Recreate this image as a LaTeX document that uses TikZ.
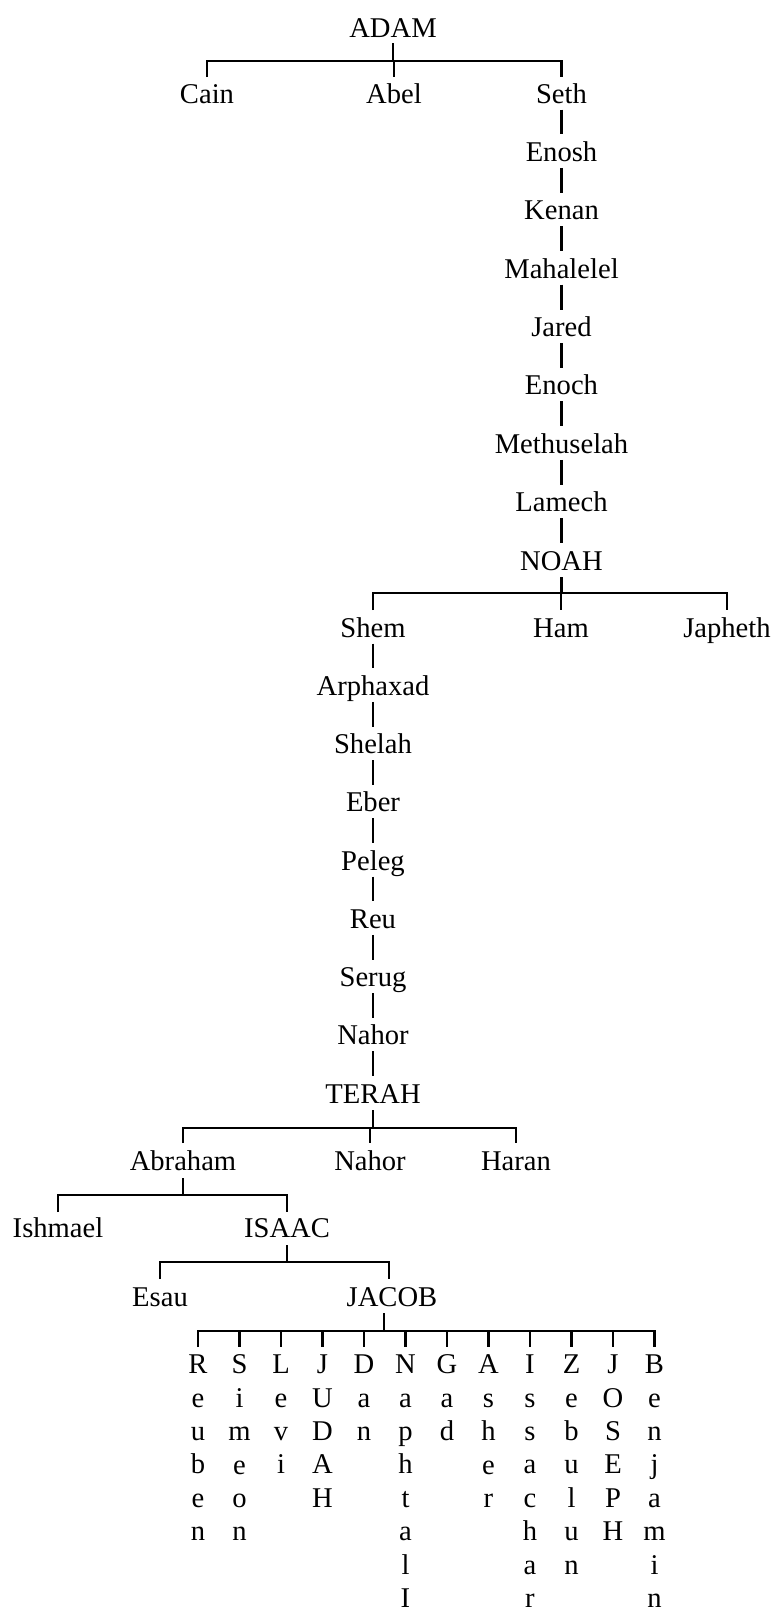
\documentclass[tikz,border=0pt]{standalone}
\usepackage{fontspec}
\setmainfont{Liberation Serif}
\begin{document}
\begin{tikzpicture}[x=1pt,y=-1pt,
  nm/.style={font=\fontsize{28.6}{34}\selectfont, inner sep=0pt, outer sep=0pt, text height=19pt, text depth=0pt, anchor=base},
  son/.style={font=\fontsize{28.6}{33.4}\selectfont, inner sep=0pt, outer sep=0pt, align=center, anchor=north},
  conn/.style={line width=2.4pt, line join=miter}]
\useasboundingbox (0,0) rectangle (777,1612);
\clip (0,0) rectangle (777,1612);
% ---- Adam and sons
\node[nm] (adam) at (393,37) {ADAM};
\node[nm] (cain) at (207,103) {Cain};
\node[nm] (abel) at (394,103) {Abel};
\node[nm] (seth) at (561.5,103) {Seth};
\node[nm] (enosh) at (561.5,161.4) {Enosh};
\node[nm] (kenan) at (561.5,219.75) {Kenan};
\node[nm] (mahalelel) at (561.5,278.1) {Mahalelel};
\node[nm] (jared) at (561.5,336.5) {Jared};
\node[nm] (enoch) at (561.5,394.9) {Enoch};
\node[nm] (methuselah) at (561.5,453.25) {Methuselah};
\node[nm] (lamech) at (561.5,511.6) {Lamech};
\node[nm] (noah) at (561.5,570) {NOAH};
\node[nm] (shem) at (373,637) {Shem};
\node[nm] (ham) at (561,637) {Ham};
\node[nm] (japheth) at (727,637) {Japheth};
\node[nm] (arphaxad) at (373,695.25) {Arphaxad};
\node[nm] (shelah) at (373,753.5) {Shelah};
\node[nm] (eber) at (373,811.75) {Eber};
\node[nm] (peleg) at (373,870) {Peleg};
\node[nm] (reu) at (373,928.25) {Reu};
\node[nm] (serug) at (373,986.5) {Serug};
\node[nm] (nahor) at (373,1044.75) {Nahor};
\node[nm] (terah) at (373,1103) {TERAH};
\node[nm] (abraham) at (183,1170) {Abraham};
\node[nm] (nahorT) at (370,1170) {Nahor};
\node[nm] (haran) at (516,1170) {Haran};
\node[nm] (ishmael) at (58,1237) {Ishmael};
\node[nm] (isaac) at (287,1237) {ISAAC};
\node[nm] (esau) at (160,1306) {Esau};
\node[nm] (jacob) at (392,1306) {JACOB};
% ---- sons of Jacob
\node[son] (reuben) at (198,1355) {R\\e\\u\\b\\e\\n};
\node[son] (simeon) at (239.5,1355) {S\\i\\m\\e\\o\\n};
\node[son] (levi) at (281,1355) {L\\e\\v\\i};
\node[son] (judah) at (322.5,1355) {J\\U\\D\\A\\H};
\node[son] (dan) at (364,1355) {D\\a\\n};
\node[son] (naphtali) at (405.5,1355) {N\\a\\p\\h\\t\\a\\l\\I};
\node[son] (gad) at (447,1355) {G\\a\\d};
\node[son] (asher) at (488.5,1355) {A\\s\\h\\e\\r};
\node[son] (issachar) at (530,1355) {I\\s\\s\\a\\c\\h\\a\\r};
\node[son] (zebulun) at (571.5,1355) {Z\\e\\b\\u\\l\\u\\n};
\node[son] (joseph) at (613,1355) {J\\O\\S\\E\\P\\H};
\node[son] (benjamin) at (654.5,1355) {B\\e\\n\\j\\a\\m\\i\\n};
% ---- bar levels
\coordinate (bA) at (0,61);
\coordinate (bN) at (0,593);
\coordinate (bT) at (0,1128);
\coordinate (bB) at (0,1195);
\coordinate (bI) at (0,1262);
\coordinate (bJ) at (0,1331);
% ---- single-line descent chains
\foreach \a/\b in {seth/enosh,enosh/kenan,kenan/mahalelel,mahalelel/jared,jared/enoch,enoch/methuselah,methuselah/lamech,lamech/noah,shem/arphaxad,arphaxad/shelah,shelah/eber,eber/peleg,peleg/reu,reu/serug,serug/nahor,nahor/terah}
  \draw[conn] ([yshift=-6.5pt]\a.south) -- ([yshift=8pt]\b.north);
% ---- Adam branch
\draw[conn] ([yshift=-6pt]adam.south) -- (adam.south |- bA);
\draw[conn] ([yshift=7pt]cain.north) -- (cain.north |- bA) -- (seth.north |- bA) -- ([yshift=7pt]seth.north);
\draw[conn] (abel.north |- bA) -- ([yshift=7pt]abel.north);
% ---- Noah branch
\draw[conn] ([yshift=-7pt]noah.south) -- (noah.south |- bN);
\draw[conn] ([yshift=8pt]shem.north) -- (shem.north |- bN) -- (japheth.north |- bN) -- ([yshift=8pt]japheth.north);
\draw[conn] (ham.north |- bN) -- ([yshift=8pt]ham.north);
% ---- Terah branch
\draw[conn] ([yshift=-7pt]terah.south) -- (terah.south |- bT);
\draw[conn] ([yshift=8pt]abraham.north) -- (abraham.north |- bT) -- (haran.north |- bT) -- ([yshift=8pt]haran.north);
\draw[conn] (nahorT.north |- bT) -- ([yshift=8pt]nahorT.north);
% ---- Abraham branch
\draw[conn] ([yshift=-8pt]abraham.south) -- (abraham.south |- bB);
\draw[conn] ([yshift=6pt]ishmael.north) -- (ishmael.north |- bB) -- (isaac.north |- bB) -- ([yshift=6pt]isaac.north);
% ---- Isaac branch
\draw[conn] ([yshift=-8pt]isaac.south) -- (isaac.south |- bI);
\draw[conn] ([yshift=8pt]esau.north) -- (esau.north |- bI) -- ([xshift=-3pt]jacob.north |- bI) -- ([xshift=-3pt,yshift=8pt]jacob.north);
% ---- Jacob branch
\draw[conn] ([xshift=-8pt,yshift=-7pt]jacob.south) -- ([xshift=-8pt]jacob.south |- bJ);
\draw[conn] ([yshift=8pt]reuben.north) -- (reuben.north |- bJ) -- (benjamin.north |- bJ) -- ([yshift=8pt]benjamin.north);
\foreach \s in {simeon,levi,judah,dan,naphtali,gad,asher,issachar,zebulun,joseph}
  \draw[conn] (\s.north |- bJ) -- ([yshift=8pt]\s.north);
\end{tikzpicture}
\end{document}
